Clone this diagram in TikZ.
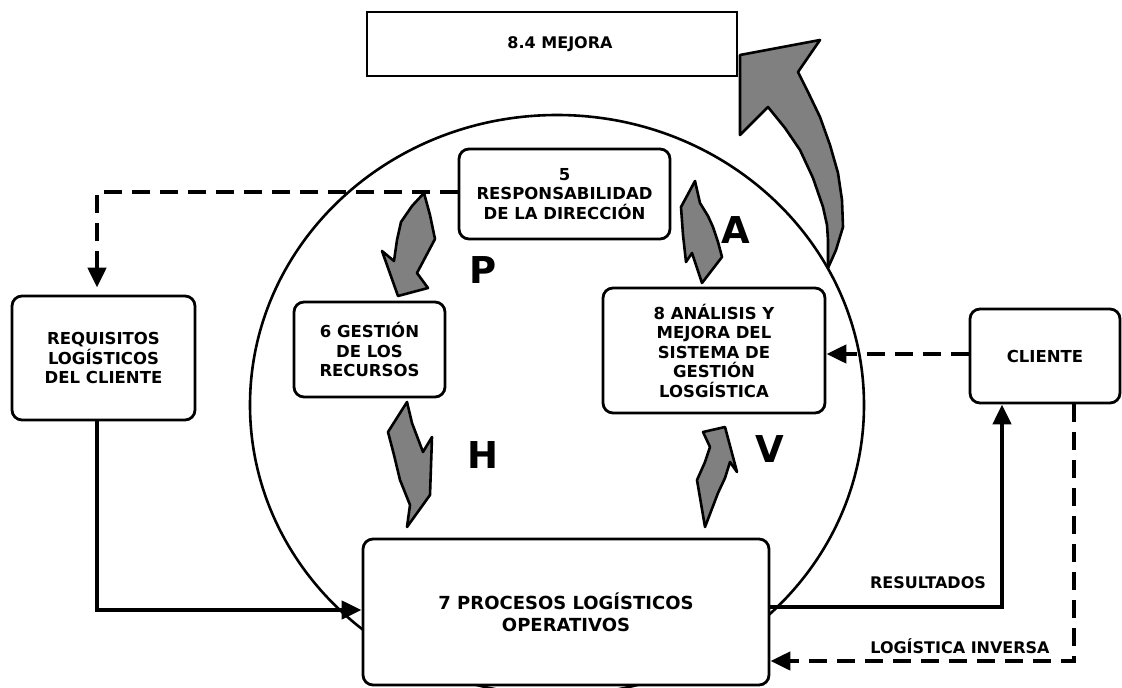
\documentclass[tikz,border=0pt]{standalone}
\usepackage{fontspec}
\setmainfont{DejaVu Sans}
\usetikzlibrary{arrows.meta}
\begin{document}
\begin{tikzpicture}[x=1pt,y=-1pt,
  box/.style={draw, line width=2.8pt, rounded corners=10pt, fill=white, align=center,
    font=\bfseries\fontsize{16.5}{19.5}\selectfont, inner sep=0pt},
  garrow/.style={fill=gray, draw=black, line width=2.6pt, line join=round},
  big/.style={font=\bfseries\fontsize{37}{40}\selectfont, inner sep=0pt},
  lbl/.style={font=\bfseries\fontsize{16}{19}\selectfont, inner sep=0pt},
  solidconn/.style={line width=4.4pt, -{Triangle[length=20pt,width=18pt]}},
  dashconn/.style={line width=4.4pt, dash pattern=on 18pt off 10pt, -{Triangle[length=20pt,width=18pt]}}
]
\useasboundingbox (0,0) rectangle (1122,688);

% big circle
\draw[line width=2.6pt] (557,405) ellipse [x radius=307pt, y radius=290pt];

% gray arrows
\draw[garrow] (828,268) -- (836,250) -- (843,227) -- (842,200) -- (838,173) -- (830,145) -- (820,117) -- (808,92) -- (798,72) -- (820,40) -- (740,55) -- (740,135) -- (768,107) -- (785,128) -- (800,150) -- (813,178) -- (823,207) -- (827,225) -- (828,240) -- cycle;
\draw[garrow] (424,193) -- (430,215) -- (435,239) -- (426,256) -- (417,273) -- (428,288) -- (398,296) -- (382,251) -- (394,261) -- (397,240) -- (401,222) -- (412,206) -- cycle;
\draw[garrow] (695,181) -- (700,203) -- (708,216) -- (713,227) -- (718,242) -- (722,257) -- (702,283) -- (692,253) -- (686,262) -- (683,235) -- (681,207) -- cycle;
\draw[garrow] (407,402) -- (412,423) -- (423,452) -- (432,437) -- (430,495) -- (407,527) -- (410,505) -- (400,480) -- (394,455) -- (388,432) -- cycle;
\draw[garrow] (703,432) -- (725,427) -- (737,472) -- (730,462) -- (725,478) -- (718,493) -- (705,527) -- (697,480) -- (705,462) -- (710,447) -- cycle;

% boxes
\node[draw, line width=2.8pt, fill=white, minimum width=370pt, minimum height=64pt, inner sep=0pt] (mejora) at (552,44) {};
\node[font=\bfseries\fontsize{16}{19}\selectfont, inner sep=0pt] (mejoratxt) at (560,44) {8.4 MEJORA};
\node[box, minimum width=211pt, minimum height=90pt] (resp) at (564.5,194) {5\\RESPONSABILIDAD\\DE LA DIRECCIÓN};
\node[box, minimum width=151pt, minimum height=95pt] (gest) at (369.5,349.5) {6 GESTIÓN\\DE LOS\\RECURSOS};
\node[box, minimum width=222pt, minimum height=125pt] (anal) at (714,350.5) {8 ANÁLISIS Y\\MEJORA DEL\\SISTEMA DE\\GESTIÓN\\LOSGÍSTICA};
\node[box, minimum width=150pt, minimum height=94pt] (cliente) at (1045,356) {CLIENTE};
\node[box, minimum width=183pt, minimum height=124pt] (req) at (103.5,358) {REQUISITOS\\LOGÍSTICOS\\DEL CLIENTE};
\node[box, minimum width=406pt, minimum height=146pt, font=\bfseries\fontsize{18}{22}\selectfont] (proc) at (566,612) {7 PROCESOS LOGÍSTICOS\\OPERATIVOS};

% big letters
\node[big] (P) at (483,270) {P};
\node[big] (A) at (736,230) {A};
\node[big] (H) at (483,455) {H};
\node[big] (V) at (770,449) {V};

% connectors
\draw[dashconn, shorten >=7pt] ([yshift=2pt]resp.west) -| ([xshift=-6.5pt]req.north);
\draw[solidconn, line join=miter] ([xshift=-6.5pt]req.south) |- ([yshift=2pt]proc.west);
\draw[solidconn, line join=miter] ([yshift=5pt]proc.east) -| ([xshift=-43pt]cliente.south);
\draw[dashconn] ([yshift=2pt]cliente.west) -- ([yshift=2pt]cliente.west -| anal.east);
\draw[dashconn] ([xshift=29pt]cliente.south) |- ([yshift=-49pt]proc.east);

% labels
\node[lbl] (lres) at (928,583) {RESULTADOS};
\node[lbl] (linv) at (960,646) {LOGÍSTICA INVERSA};
\end{tikzpicture}
\end{document}
